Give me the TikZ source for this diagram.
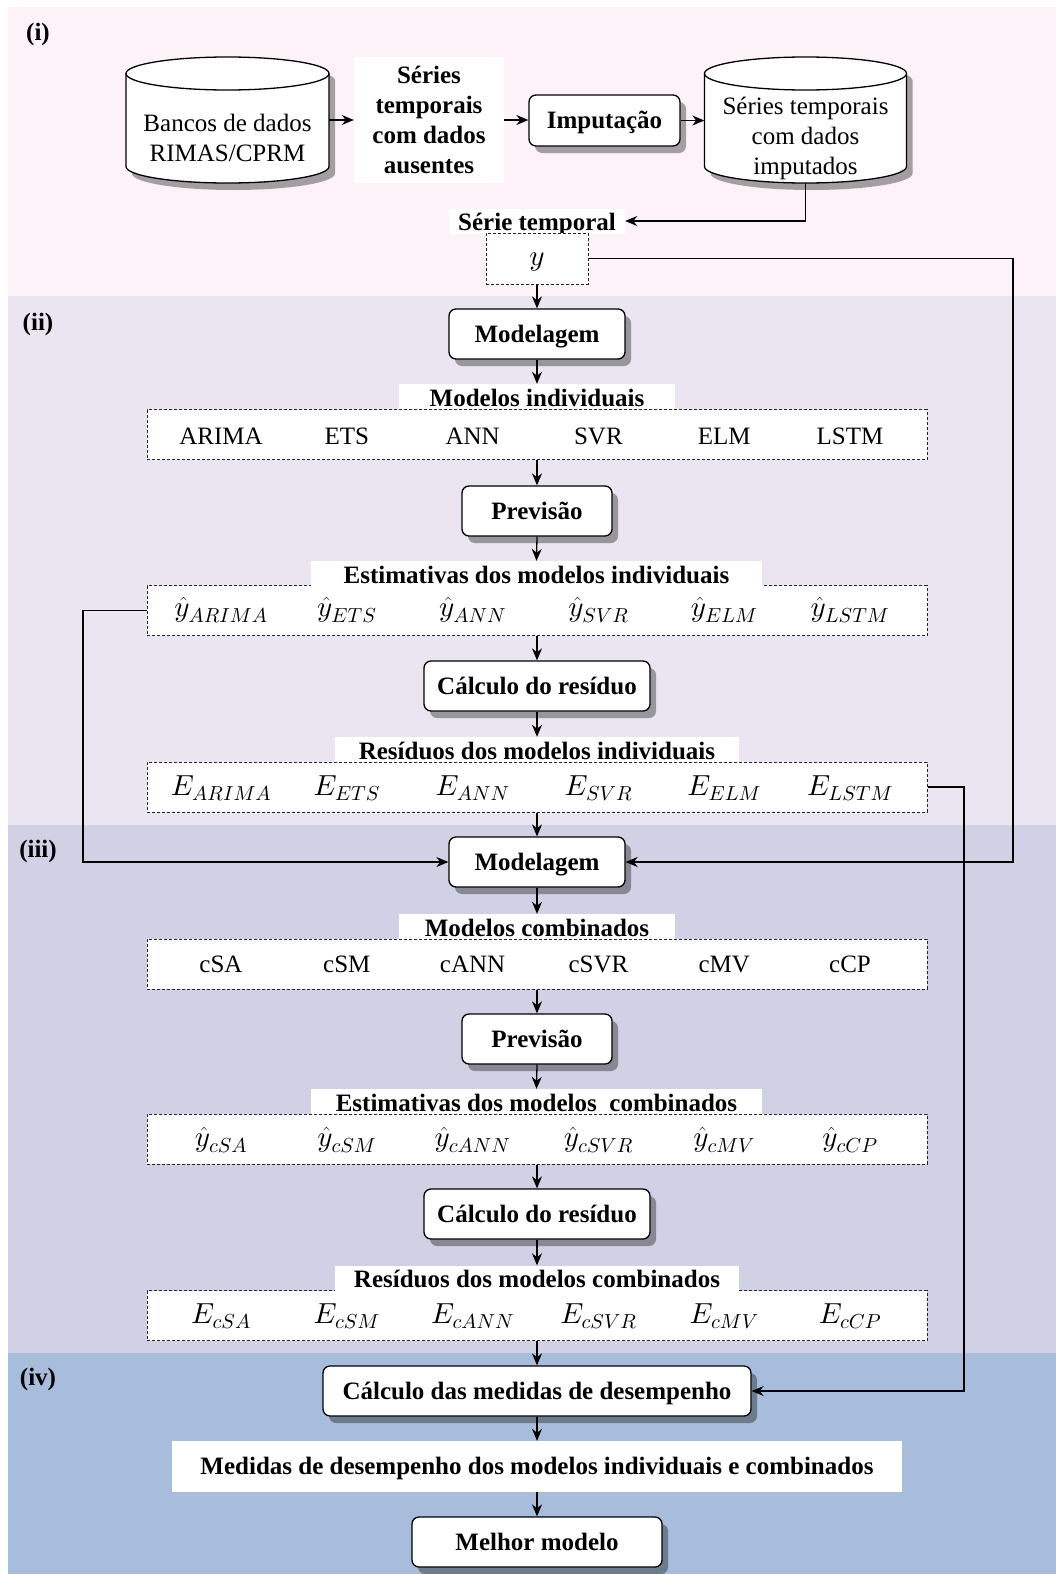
\documentclass[tikz,border=0pt]{standalone}
\usepackage{fontspec}
\DeclareFontFamily{OML}{cmm}{\skewchar\font'177}
\DeclareFontShape{OML}{cmm}{m}{it}{<->cmmi10}{}
\newfontfamily\tnrfont{Liberation Serif}
\usetikzlibrary{arrows.meta,shadows,calc}
\definecolor{bandA}{HTML}{FDF2F8}
\definecolor{bandB}{HTML}{EAE5F1}
\definecolor{bandC}{HTML}{D1D1E6}
\definecolor{bandD}{HTML}{A8BDDC}
\newcommand\bfb{\tnrfont\bfseries\fontsize{25}{30}\selectfont}
\newcommand\mfnt{\fontsize{29}{34}\selectfont}
\tikzset{
  arr/.style={-{Stealth[length=12pt,width=10pt]}, line width=1.3pt},
  myshadow/.style={drop shadow={shadow xshift=6pt,shadow yshift=-7pt,fill=black,opacity=0.35}},
  capc/.style={text height=18pt, text depth=1.5pt},
  rbox/.style={draw, line width=1.3pt, rounded corners=7pt, fill=white, minimum height=50pt, inner sep=0pt, font=\bfb, capc, myshadow},
  dbox/.style={draw=black!85, line width=1pt, dash pattern=on 3pt off 2pt, fill=white, minimum width=780pt, minimum height=50pt, inner sep=0pt},
  wlbl/.style={fill=white, inner sep=0pt, font=\bfb, minimum height=25pt, text height=19pt, text depth=0pt},
  wbox/.style={fill=white, inner sep=0pt, font=\bfb, align=center},
  regt/.style={font=\tnrfont\fontsize{25}{30}\selectfont, align=center, inner sep=0pt},
  ritem/.style={font=\tnrfont\fontsize{25}{30}\selectfont, inner sep=0pt, capc},
  mitem/.style={font=\mfnt, inner sep=0pt},
  bandlbl/.style={font=\bfb, inner sep=0pt},
  anch/.style={inner sep=0pt, minimum width=#1, minimum height=126pt}
}
\newcommand\drawcyl[4]{%
  \path[draw, line width=1.3pt, fill=white, myshadow]
    (#1-#4,-#2-16.5) -- (#1-#4,-#3+16.5)
    arc[start angle=180,end angle=360,x radius=#4pt,y radius=16.5pt]
    -- (#1+#4,-#2-16.5)
    arc[start angle=0,end angle=180,x radius=#4pt,y radius=16.5pt] -- cycle;
  \draw[line width=1.3pt] (#1-#4,-#2-16.5)
    arc[start angle=180,end angle=360,x radius=#4pt,y radius=16.5pt];}
\begin{document}
\begin{tikzpicture}[x=1pt,y=1pt]
\useasboundingbox (0,0) rectangle (1056,-1574);
\fill[white] (0,0) rectangle (1056,-1574);
\fill[bandA] (8,-7) rectangle (1056,-296);
\fill[bandB] (8,-296) rectangle (1056,-825);
\fill[bandC] (8,-825) rectangle (1056,-1353);
\fill[bandD] (8,-1353) rectangle (1056,-1574);

\node[bandlbl] (li) at (38,-34) {(i)};
\node[bandlbl] (lii) at (38,-324) {(ii)};
\node[bandlbl] (liii) at (38,-851) {(iii)};
\node[bandlbl] (liv) at (38,-1379) {(iv)};

% stage (i)
\node[anch=203pt] (cylA) at (227.5,-120) {};
\drawcyl{227.5}{57}{183}{101.5}
\node[regt] (cylAt) at (227.5,-138) {Bancos de dados\\RIMAS/CPRM};
\node[wbox, minimum width=150pt, minimum height=126pt] (series) at (429,-120) {Séries\\temporais\\com dados\\ausentes};
\node[rbox, minimum width=151pt, minimum height=51pt] (imput) at (604.5,-120.5) {Imputação};
\node[anch=202pt] (cylB) at (805.5,-120) {};
\drawcyl{805.5}{57}{183}{101}
\node[regt] (cylBt) at (805.5,-138) {Séries temporais\\com dados\\imputados};
\node[wlbl, minimum width=176pt] (serieT) at (537,-221) {Série temporal};
\node[dbox, minimum width=102pt, minimum height=51pt, font=\mfnt, text height=20pt, text depth=5.6pt] (ybox) at (537,-258.5) {$y$};

% stage (ii)
\node[rbox, minimum width=176pt] (mod1) at (537,-334) {Modelagem};
\node[dbox] (box1) at (537,-434.5) {};
\node[wlbl, minimum width=276pt] (lbl1) at (537,-396.5) {Modelos individuais};
\foreach \t [count=\i] in {ARIMA,ETS,ANN,SVR,ELM,LSTM}
  \node[ritem] (a\i) at ({95.2+125.8*\i},-436) {\t};
\node[rbox, minimum width=150pt] (prev1) at (537,-511) {Previsão};
\node[dbox] (box2) at (537,-610.5) {};
\node[wlbl, minimum width=451pt] (lbl2) at (536.5,-573.5) {Estimativas dos modelos individuais};
\foreach \t [count=\i] in {ARIMA,ETS,ANN,SVR,ELM,LSTM}
  \node[mitem] (b\i) at ({95.2+125.8*\i},-610) {$\hat{y}_{\t}$};
\node[rbox, minimum width=226pt] (calc1) at (537,-686) {Cálculo do resíduo};
\node[dbox] (box3) at (537,-787) {};
\node[wlbl, minimum width=404pt] (lbl3) at (537,-749.5) {Resíduos dos modelos individuais};
\foreach \t [count=\i] in {ARIMA,ETS,ANN,SVR,ELM,LSTM}
  \node[mitem] (c\i) at ({95.2+125.8*\i},-788) {$E_{\t}$};

% stage (iii)
\node[rbox, minimum width=176pt] (mod2) at (537,-862) {Modelagem};
\node[dbox] (box4) at (537,-964) {};
\node[wlbl, minimum width=276pt] (lbl4) at (537,-926.5) {Modelos combinados};
\foreach \t [count=\i] in {cSA,cSM,cANN,cSVR,cMV,cCP}
  \node[ritem] (d\i) at ({95.2+125.8*\i},-964) {\t};
\node[rbox, minimum width=150pt] (prev2) at (537,-1039) {Previsão};
\node[dbox] (box5) at (537,-1139) {};
\node[wlbl, minimum width=451pt] (lbl5) at (536.5,-1101.5) {Estimativas dos modelos\ \ combinados};
\foreach \t [count=\i] in {cSA,cSM,cANN,cSVR,cMV,cCP}
  \node[mitem] (e\i) at ({95.2+125.8*\i},-1140) {$\hat{y}_{\t}$};
\node[rbox, minimum width=226pt] (calc2) at (537,-1214) {Cálculo do resíduo};
\node[dbox] (box6) at (537,-1315.5) {};
\node[wlbl, minimum width=404pt] (lbl6) at (537,-1278) {Resíduos dos modelos combinados};
\foreach \t [count=\i] in {cSA,cSM,cANN,cSVR,cMV,cCP}
  \node[mitem] (f\i) at ({95.2+125.8*\i},-1316) {$E_{\t}$};

% stage (iv)
\node[rbox, minimum width=428pt] (medcalc) at (537,-1391) {Cálculo das medidas de desempenho};
\node[wbox, capc, minimum width=730pt, minimum height=51pt] (medidas) at (537,-1466.5) {Medidas de desempenho dos modelos individuais e combinados};
\node[rbox, minimum width=250pt] (best) at (537,-1542) {Melhor modelo};

% helper coordinates
\coordinate (rY) at (1013,0);
\coordinate (lX) at (83,0);
\coordinate (rE) at (964,0);

% connectors
\draw[arr] (cylA.east) -- (series.west);
\draw[arr] (series.east) -- (imput.west |- series.east);
\draw[arr] (imput.east) -- (cylB.west |- imput.east);
\draw[arr] (cylB.south) |- (serieT.east);
\draw[arr] (ybox.south) -- (mod1.north);
\draw[arr] (ybox.east) -- (ybox.east -| rY) |- (mod2.east);
\draw[arr] (mod1.south) -- (lbl1.north);
\draw[arr] (box1.south) -- (prev1.north);
\draw[arr] (prev1.south) -- (lbl2.north);
\draw[arr] (box2.south) -- (calc1.north);
\draw[arr] (calc1.south) -- (lbl3.north);
\draw[arr] (box3.south) -- (mod2.north);
\draw[arr] (box2.west) -- (box2.west -| lX) |- (mod2.west);
\draw[arr] (box3.east) -- (box3.east -| rE) |- (medcalc.east);
\draw[arr] (mod2.south) -- (lbl4.north);
\draw[arr] (box4.south) -- (prev2.north);
\draw[arr] (prev2.south) -- (lbl5.north);
\draw[arr] (box5.south) -- (calc2.north);
\draw[arr] (calc2.south) -- (lbl6.north);
\draw[arr] (box6.south) -- (medcalc.north);
\draw[arr] (medcalc.south) -- (medidas.north);
\draw[arr] (medidas.south) -- (best.north);
\end{tikzpicture}
\end{document}
